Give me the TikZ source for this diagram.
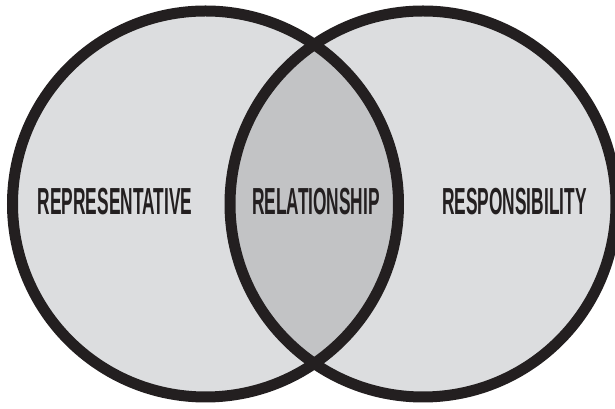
\documentclass[tikz,border=0pt]{standalone}
\usepackage{fontspec}
\newfontfamily\vennfont[FakeStretch=0.46]{Liberation Sans}
\usepackage{xcolor}
\usepackage{tikz}
\usetikzlibrary{positioning}
\definecolor{vennfill}{HTML}{DCDDDF}
\definecolor{vennlens}{HTML}{C2C3C5}
\definecolor{vennink}{HTML}{231F20}
\newcommand{\SETR}{4.825}

\begin{document}
\begin{tikzpicture}[
  setdisc/.style={circle, fill=vennfill, inner sep=+0pt, minimum size=9.65cm},
  setring/.style={draw=vennink, line width=0.275cm},
  setlabel/.style={anchor=base, text=vennink, inner sep=+0pt, font=\vennfont\bfseries\fontsize{26.8}{30}\selectfont}
]
\useasboundingbox (0,0) rectangle (15.375,10.225);

\node[setdisc] (rep) at (5.1375,5.125) {};
\node[setdisc] (res) at (10.575,5.125) {};

% overlap
\begin{scope}
  \clip (rep.center) circle (\SETR);
  \fill[vennlens] (res.center) circle (\SETR);
\end{scope}

\draw[setring] (rep.center) circle (\SETR);
\draw[setring] (res.center) circle (\SETR);

\node[setlabel] (repText) at (2.875,4.85) {REPRESENTATIVE};
\node[setlabel] (relText) at (7.9,4.85) {RELATIONSHIP};
\node[setlabel] (resText) at (12.86,4.85) {RESPONSIBILITY};

\end{tikzpicture}
\end{document}
